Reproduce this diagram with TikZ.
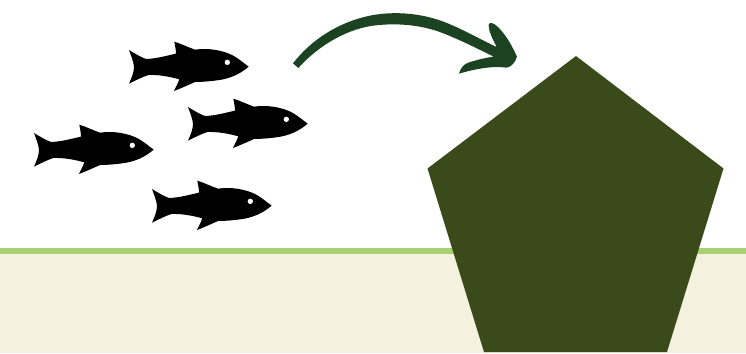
\documentclass[tikz,border=0pt]{standalone}
\definecolor{beige}{HTML}{F4F1DF}
\definecolor{grassline}{HTML}{A9D171}
\definecolor{penta}{HTML}{3B4A1B}
\definecolor{arrowgreen}{HTML}{1B4322}
\tikzset{
  fishshape/.pic={
    \fill[black] (27,45) .. controls (45,56) and (62,66) .. (78,72)
      .. controls (110,71) and (140,62) .. (168,56)
      .. controls (168,45) and (165,32) .. (163,20)
      .. controls (185,27) and (205,37) .. (225,44)
      .. controls (265,38) and (310,46) .. (340,62)
      .. controls (358,72) and (372,85) .. (386,95)
      .. controls (365,113) and (340,127) .. (305,134)
      .. controls (280,138) and (250,141) .. (225,141)
      .. controls (205,150) and (183,160) .. (162,168)
      .. controls (168,155) and (174,145) .. (178,133)
      .. controls (145,124) and (115,119) .. (85,120)
      .. controls (65,127) and (47,136) .. (27,146)
      .. controls (35,128) and (42,112) .. (42,95)
      .. controls (40,78) and (33,62) .. (27,45) -- cycle;
    \fill[white] (322,82) circle (8);
  }
}
\begin{document}
\begin{tikzpicture}[x=1pt,y=-1pt]
\useasboundingbox (0,0) rectangle (746,353);
\fill[white] (0,0) rectangle (746,353);
\fill[beige] (0,253) rectangle (746,353);
\fill[grassline] (0,248) rectangle (746,254);
\fill[penta] (576,56) -- (723.5,168.5) -- (667,352) -- (484,352) -- (427.5,168.5) -- cycle;
\pic[x=0.3333pt,y=-0.3333pt,xshift=120pt,yshift=-35pt] {fishshape};
\pic[x=0.3333pt,y=-0.3333pt,xshift=179pt,yshift=-92pt] {fishshape};
\pic[x=0.3333pt,y=-0.3333pt,xshift=25pt,yshift=-118pt] {fishshape};
\pic[x=0.3333pt,y=-0.3333pt,xshift=143pt,yshift=-174pt] {fishshape};
\begin{scope}[x=0.3333pt,y=-0.3333pt,xshift=285pt,yshift=-5pt]
\fill[arrowgreen] (24,175)
  .. controls (80,103) and (160,53) .. (250,33)
  .. controls (320,18) and (400,23) .. (470,48)
  .. controls (530,70) and (585,103) .. (635,126)
  .. controls (625,105) and (612,85) .. (611,60)
  .. controls (613,51) and (622,53) .. (632,60)
  .. controls (662,85) and (682,125) .. (696,155)
  .. controls (691,171) and (681,185) .. (665,188)
  .. controls (620,182) and (570,192) .. (522,206)
  .. controls (527,190) and (535,178) .. (550,173)
  .. controls (580,163) and (605,158) .. (626,155)
  .. controls (580,132) and (530,107) .. (480,87)
  .. controls (420,62) and (350,54) .. (282,60)
  .. controls (190,67) and (100,122) .. (40,189)
  -- cycle;
\end{scope}
\end{tikzpicture}
\end{document}
